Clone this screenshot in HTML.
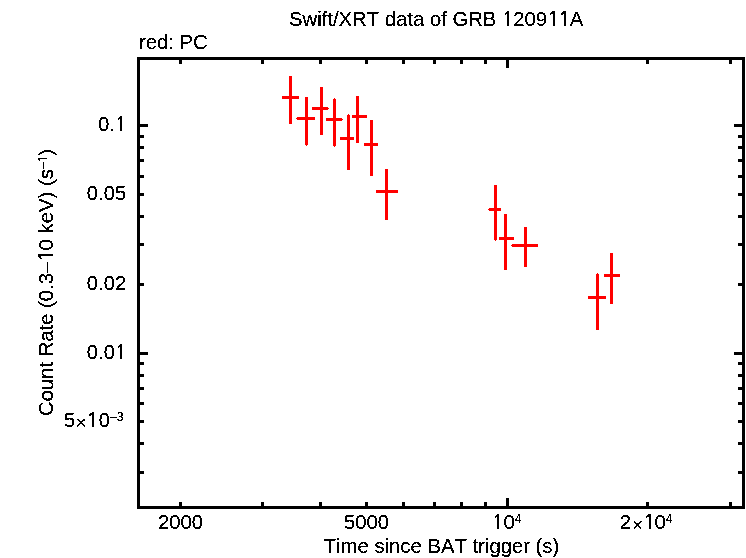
<!DOCTYPE html>
<html><head><meta charset="utf-8"><title>Swift/XRT data of GRB 120911A</title>
<style>
html,body{margin:0;padding:0;background:#fff;}
body{width:746px;height:558px;overflow:hidden;}
svg{display:block;}
text{font-kerning:none;font-family:"Liberation Sans",sans-serif;font-size:20.3px;fill:#000;}
.sup{font-size:12.2px;}
.o{font-family:"NanumGothic","Liberation Sans",sans-serif;font-size:19.2px;letter-spacing:-0.35px;stroke:#000;stroke-width:.3px;}
.so{font-family:"NanumGothic","Liberation Sans",sans-serif;font-size:11.5px;letter-spacing:-0.2px;stroke:#000;stroke-width:.2px;}
</style></head><body>
<svg width="746" height="558" viewBox="0 0 746 558">
<rect x="0" y="0" width="746" height="558" fill="#fff"/>
<defs><filter id="bw" x="-5%" y="-5%" width="110%" height="110%" color-interpolation-filters="sRGB"><feComponentTransfer><feFuncA type="discrete" tableValues="0 0 0 1 1 1 1 1"/></feComponentTransfer></filter></defs>
<g fill="#000" shape-rendering="crispEdges">
<rect x="137" y="57" width="3" height="452"/>
<rect x="742" y="57" width="3" height="452"/>
<rect x="137" y="57" width="608" height="3"/>
<rect x="137" y="506" width="608" height="3"/>
<rect x="179" y="60" width="3" height="4"/>
<rect x="179" y="502" width="3" height="4"/>
<rect x="261" y="60" width="3" height="4"/>
<rect x="261" y="502" width="3" height="4"/>
<rect x="319" y="60" width="3" height="4"/>
<rect x="319" y="502" width="3" height="4"/>
<rect x="365" y="60" width="3" height="4"/>
<rect x="365" y="502" width="3" height="4"/>
<rect x="402" y="60" width="3" height="4"/>
<rect x="402" y="502" width="3" height="4"/>
<rect x="433" y="60" width="3" height="4"/>
<rect x="433" y="502" width="3" height="4"/>
<rect x="460" y="60" width="3" height="4"/>
<rect x="460" y="502" width="3" height="4"/>
<rect x="484" y="60" width="3" height="4"/>
<rect x="484" y="502" width="3" height="4"/>
<rect x="506" y="60" width="3" height="8"/>
<rect x="506" y="498" width="3" height="8"/>
<rect x="646" y="60" width="3" height="4"/>
<rect x="646" y="502" width="3" height="4"/>
<rect x="729" y="60" width="3" height="4"/>
<rect x="729" y="502" width="3" height="4"/>
<rect x="140" y="124" width="8" height="3"/>
<rect x="734" y="124" width="8" height="3"/>
<rect x="140" y="135" width="4" height="3"/>
<rect x="738" y="135" width="4" height="3"/>
<rect x="140" y="146" width="4" height="3"/>
<rect x="738" y="146" width="4" height="3"/>
<rect x="140" y="159" width="4" height="3"/>
<rect x="738" y="159" width="4" height="3"/>
<rect x="140" y="175" width="4" height="3"/>
<rect x="738" y="175" width="4" height="3"/>
<rect x="140" y="193" width="4" height="3"/>
<rect x="738" y="193" width="4" height="3"/>
<rect x="140" y="215" width="4" height="3"/>
<rect x="738" y="215" width="4" height="3"/>
<rect x="140" y="243" width="4" height="3"/>
<rect x="738" y="243" width="4" height="3"/>
<rect x="140" y="283" width="4" height="3"/>
<rect x="738" y="283" width="4" height="3"/>
<rect x="140" y="352" width="8" height="3"/>
<rect x="734" y="352" width="8" height="3"/>
<rect x="140" y="362" width="4" height="3"/>
<rect x="738" y="362" width="4" height="3"/>
<rect x="140" y="374" width="4" height="3"/>
<rect x="738" y="374" width="4" height="3"/>
<rect x="140" y="387" width="4" height="3"/>
<rect x="738" y="387" width="4" height="3"/>
<rect x="140" y="402" width="4" height="3"/>
<rect x="738" y="402" width="4" height="3"/>
<rect x="140" y="420" width="4" height="3"/>
<rect x="738" y="420" width="4" height="3"/>
<rect x="140" y="442" width="4" height="3"/>
<rect x="738" y="442" width="4" height="3"/>
<rect x="140" y="471" width="4" height="3"/>
<rect x="738" y="471" width="4" height="3"/>
</g>
<g fill="#ff0000" shape-rendering="crispEdges">
<rect x="289" y="76" width="3" height="48"/>
<rect x="282" y="96" width="17" height="3"/>
<rect x="305" y="97" width="3" height="48"/>
<rect x="297" y="117" width="18" height="3"/>
<rect x="320" y="87" width="3" height="48"/>
<rect x="312" y="107" width="16" height="3"/>
<rect x="333" y="99" width="3" height="47"/>
<rect x="326" y="118" width="16" height="3"/>
<rect x="347" y="115" width="3" height="55"/>
<rect x="340" y="137" width="14" height="3"/>
<rect x="356" y="96" width="3" height="47"/>
<rect x="352" y="115" width="15" height="3"/>
<rect x="370" y="120" width="3" height="56"/>
<rect x="364" y="143" width="14" height="3"/>
<rect x="385" y="169" width="3" height="51"/>
<rect x="376" y="190" width="22" height="3"/>
<rect x="494" y="185" width="3" height="55"/>
<rect x="489" y="208" width="12" height="3"/>
<rect x="504" y="214" width="3" height="56"/>
<rect x="499" y="237" width="15" height="3"/>
<rect x="524" y="227" width="3" height="40"/>
<rect x="512" y="244" width="26" height="3"/>
<rect x="596" y="274" width="3" height="56"/>
<rect x="588" y="296" width="18" height="3"/>
<rect x="610" y="253" width="3" height="51"/>
<rect x="604" y="274" width="16" height="3"/>
<rect x="306" y="145" width="1" height="1"/>
<rect x="296" y="118" width="1" height="1"/>
<rect x="328" y="108" width="1" height="1"/>
<rect x="334" y="98" width="1" height="1"/>
<rect x="334" y="146" width="1" height="1"/>
<rect x="342" y="119" width="1" height="1"/>
<rect x="348" y="114" width="1" height="1"/>
<rect x="495" y="240" width="1" height="1"/>
<rect x="488" y="209" width="1" height="1"/>
<rect x="511" y="245" width="1" height="1"/>
<rect x="597" y="273" width="1" height="1"/>
</g>
<g filter="url(#bw)">
<text x="289" y="26">Swift/XRT data of GRB <tspan class="o">1</tspan>209<tspan class="o">11</tspan>A</text>
<text x="139" y="49">red: PC</text>
<text x="180.5" y="529" text-anchor="middle">2000</text>
<text x="366.5" y="529" text-anchor="middle">5000</text>
<text y="529"><tspan class="o" x="492">1</tspan><tspan x="503.6">0</tspan><tspan class="sup" x="514.7" dy="-6">4</tspan></text>
<text x="646.1" y="529" text-anchor="middle">2<tspan style="font-size:19px" dx="1.2" dy="2">×</tspan><tspan dy="-2"><tspan class="o">1</tspan>0</tspan><tspan class="sup" dy="-6">4</tspan></text>
<text x="441.5" y="553" text-anchor="middle">Time since BAT trigger (s)</text>
<text x="126.3" y="131" text-anchor="end">0.<tspan class="o">1</tspan></text>
<text x="126.3" y="200" text-anchor="end">0.05</text>
<text x="126.3" y="290" text-anchor="end">0.02</text>
<text x="126.3" y="359" text-anchor="end">0.0<tspan class="o">1</tspan></text>
<text y="427"><tspan x="64.1">5</tspan><tspan x="75.4" dy="2" style="font-size:19px">×</tspan><tspan x="86.8" dy="-2" class="o">1</tspan><tspan x="98.8">0</tspan><tspan x="110.3" dy="-6" class="sup">–</tspan><tspan x="116.7" class="sup">3</tspan></text>
<text transform="translate(53.3 282.5) rotate(-90)" text-anchor="middle">Count Rate (0.3–<tspan class="o">1</tspan>0 keV) (s<tspan class="sup" dy="-6">–<tspan class="so">1</tspan></tspan><tspan dy="6">)</tspan></text>
</g>
</svg>
</body></html>
